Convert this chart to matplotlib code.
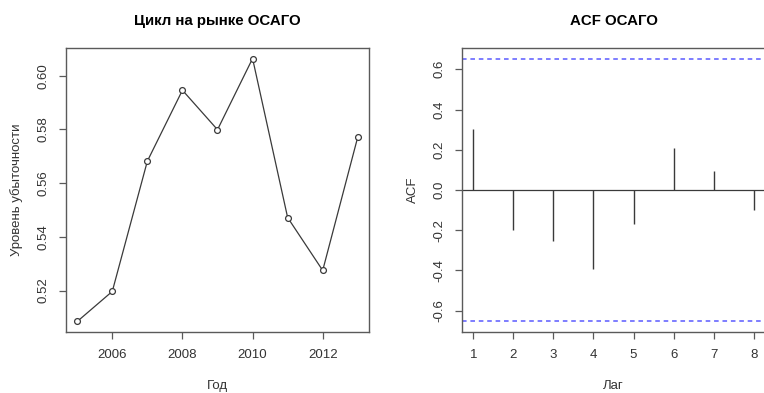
import matplotlib
matplotlib.use("Agg")
import matplotlib.pyplot as plt
import numpy as np

plt.rcParams['font.family'] = ['Liberation Sans', 'DejaVu Sans']

# Loss ratio of the OSAGO market by year
years = [2005, 2006, 2007, 2008, 2009, 2010, 2011, 2012, 2013]
loss_ratio = [0.5085, 0.5197, 0.5682, 0.5946, 0.5799, 0.6064, 0.5472, 0.5275, 0.5772]

# Autocorrelation by lag
lags = [1, 2, 3, 4, 5, 6, 7, 8]
acf_vals = [0.303, -0.200, -0.253, -0.395, -0.167, 0.210, 0.092, -0.097]
conf_limit = 1.96 / np.sqrt(len(years))

year_ticks = [2006, 2008, 2010, 2012]
ratio_ticks = [0.52, 0.54, 0.56, 0.58, 0.60]
acf_ticks = [-0.6, -0.4, -0.2, 0.0, 0.2, 0.4, 0.6]

W, H = 764, 393
fig = plt.figure(figsize=(W / 100, H / 100), dpi=100)

line_col = '#3a3a3a'
spine_col = '#5a5a5a'
fs = 9.5
title_fs = 10.8


def style(ax):
    for s in ax.spines.values():
        s.set_color(spine_col)
        s.set_linewidth(1.0)
    ax.tick_params(direction='out', length=5, width=0.9, color=spine_col,
                   labelsize=fs, labelcolor='#333333', pad=7)
    for lab in ax.get_yticklabels():
        lab.set_rotation(90)
        lab.set_va('center')


def pad_range(lo, hi):
    d = (hi - lo) * 0.04
    return lo - d, hi + d


# Left: time series plot
ax1 = fig.add_axes([66 / W, 1 - 332 / H, 303 / W, 284 / H])
ax1.plot(years, loss_ratio, color=line_col, lw=0.9, marker='o', ms=4.2,
         mfc='white', mec=line_col, mew=0.9)
ax1.set_xlim(*pad_range(min(years), max(years)))
ax1.set_ylim(*pad_range(min(loss_ratio), max(loss_ratio)))
ax1.set_xticks(year_ticks)
ax1.set_yticks(ratio_ticks)
ax1.set_yticklabels([f"{v:.2f}" for v in ratio_ticks])
style(ax1)
ax1.set_title("Цикл на рынке ОСАГО", fontsize=title_fs, fontweight='bold', pad=16.5)
ax1.set_xlabel("Год", fontsize=fs, color='#333333', labelpad=14)
ax1.set_ylabel("Уровень убыточности", fontsize=fs, color='#333333', labelpad=10)

# Right: autocorrelation function
ax2 = fig.add_axes([462 / W, 1 - 332 / H, 303 / W, 284 / H])
ax2.vlines(lags, 0, acf_vals, color=line_col, lw=1.0)
ax2.axhline(0, color=line_col, lw=0.9)
for c in (conf_limit, -conf_limit):
    ax2.axhline(c, color='#5a5aff', lw=1.1, linestyle=(0, (3, 2.5)))
ax2.set_xlim(*pad_range(min(lags), max(lags)))
ylo = min(min(acf_vals), -conf_limit)
yhi = max(max(acf_vals), conf_limit)
ax2.set_ylim(*pad_range(ylo, yhi))
ax2.set_xticks(lags)
ax2.set_yticks(acf_ticks)
ax2.set_yticklabels([f"{v:.1f}" for v in acf_ticks])
style(ax2)
ax2.set_title("ACF ОСАГО", fontsize=title_fs, fontweight='bold', pad=16.5)
ax2.set_xlabel("Лаг", fontsize=fs, color='#333333', labelpad=14)
ax2.set_ylabel("ACF", fontsize=fs, color='#333333', labelpad=10)

fig.savefig("out.png", dpi=100)
